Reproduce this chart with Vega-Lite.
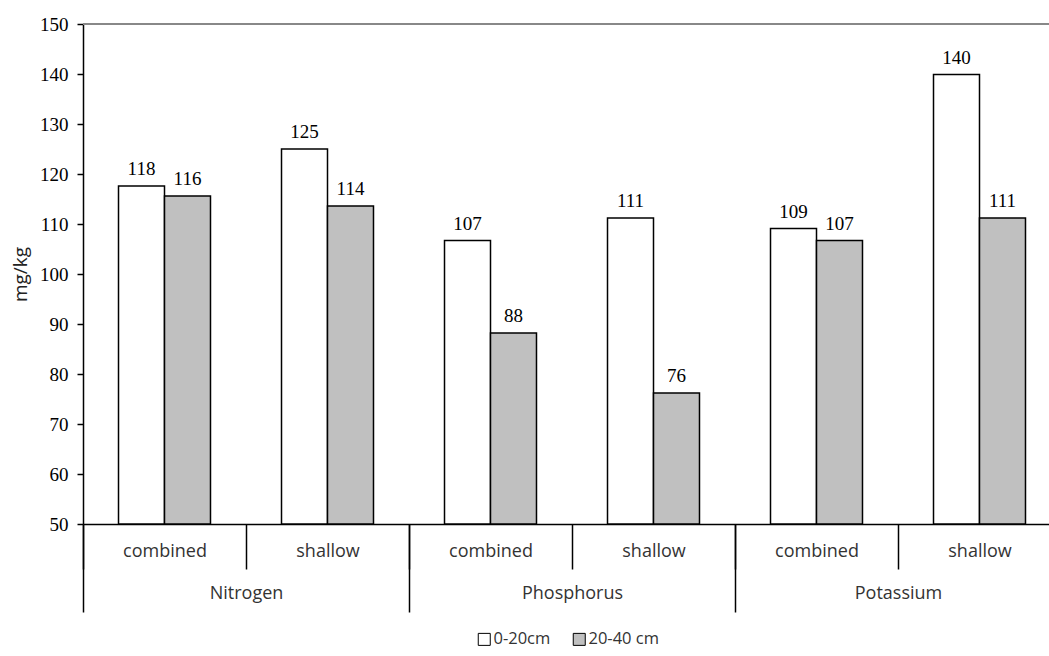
{
  "$schema": "https://vega.github.io/schema/vega-lite/v6.json",
  "autosize": "none",
  "padding": {"left": 83, "top": 24, "right": 0, "bottom": 132},
  "width": 978,
  "height": 500,
  "background": "white",
  "config": {
    "view": {"stroke": null},
    "style": {"guide-label": {"font": "Liberation Serif"}},
    "axisY": {"labelFont": "Liberation Serif"}
  },
  "data": {
    "values": [
      {"nutrient": "Nitrogen", "method": "combined", "cat": "Nitrogen|combined", "depth": "0-20cm", "value": 117.6},
      {"nutrient": "Nitrogen", "method": "combined", "cat": "Nitrogen|combined", "depth": "20-40 cm", "value": 115.6},
      {"nutrient": "Nitrogen", "method": "shallow", "cat": "Nitrogen|shallow", "depth": "0-20cm", "value": 125.0},
      {"nutrient": "Nitrogen", "method": "shallow", "cat": "Nitrogen|shallow", "depth": "20-40 cm", "value": 113.6},
      {"nutrient": "Phosphorus", "method": "combined", "cat": "Phosphorus|combined", "depth": "0-20cm", "value": 106.7},
      {"nutrient": "Phosphorus", "method": "combined", "cat": "Phosphorus|combined", "depth": "20-40 cm", "value": 88.2},
      {"nutrient": "Phosphorus", "method": "shallow", "cat": "Phosphorus|shallow", "depth": "0-20cm", "value": 111.2},
      {"nutrient": "Phosphorus", "method": "shallow", "cat": "Phosphorus|shallow", "depth": "20-40 cm", "value": 76.2},
      {"nutrient": "Potassium", "method": "combined", "cat": "Potassium|combined", "depth": "0-20cm", "value": 109.1},
      {"nutrient": "Potassium", "method": "combined", "cat": "Potassium|combined", "depth": "20-40 cm", "value": 106.7},
      {"nutrient": "Potassium", "method": "shallow", "cat": "Potassium|shallow", "depth": "0-20cm", "value": 139.9},
      {"nutrient": "Potassium", "method": "shallow", "cat": "Potassium|shallow", "depth": "20-40 cm", "value": 111.2}
    ]
  },
  "layer": [
    {
      "encoding": {
        "x": {
          "field": "cat", "type": "nominal", "sort": null,
          "scale": {"paddingInner": 0, "paddingOuter": 0},
          "axis": {
            "orient": "bottom",
            "title": null,
            "labelAngle": 0,
            "labelExpr": "split(datum.value, '|')[1]",
            "labelFont": "Open Sans",
            "labelFontSize": 18,
            "labelColor": "#333333",
            "labelPadding": -27,
            "labelBaseline": "top",
            "tickBand": "extent",
            "tickSize": 45,
            "tickColor": "black",
            "tickWidth": 1.5,
            "domainColor": "black",
            "domainWidth": 1.5,
            "grid": false
          }
        },
        "xOffset": {"field": "depth", "type": "nominal", "sort": ["0-20cm", "20-40 cm"], "scale": {"paddingInner": 0, "paddingOuter": 0.772}},
        "y": {
          "field": "value", "type": "quantitative",
          "scale": {"domain": [50, 150], "zero": false, "nice": false},
          "axis": {
            "title": "mg/kg",
            "titleFont": "Open Sans",
            "titleFontSize": 19,
            "titleFontWeight": "normal",
            "titleColor": "#222222",
            "titlePadding": 9,
            "values": [50, 60, 70, 80, 90, 100, 110, 120, 130, 140, 150],
            "labelFont": "Liberation Serif",
            "labelFontSize": 19,
            "labelFontWeight": "normal",
            "labelColor": "black",
            "labelPadding": 9,
            "tickSize": 6,
            "tickColor": "black",
            "tickWidth": 1.5,
            "domainColor": "black",
            "domainWidth": 1.5,
            "grid": false
          }
        }
      },
      "layer": [
        {
          "mark": {"type": "bar", "stroke": "black", "strokeWidth": 1.5},
          "encoding": {
            "y2": {"datum": 50},
            "color": {
              "field": "depth", "type": "nominal",
              "scale": {"domain": ["0-20cm", "20-40 cm"], "range": ["white", "#c0c0c0"]},
              "legend": {
                "orient": "none",
                "legendX": 393,
                "legendY": 607,
                "direction": "horizontal",
                "title": null,
                "symbolType": "square",
                "symbolSize": 144,
                "symbolStrokeColor": "black",
                "symbolStrokeWidth": 1,
                "symbolOpacity": 1,
                "labelFont": "Open Sans",
                "labelFontSize": 16.5,
                "labelColor": "#333333",
                "labelOffset": 1,
                "columnPadding": 20
              }
            }
          }
        },
        {
          "mark": {"type": "text", "font": "Liberation Serif", "fontSize": 19, "baseline": "bottom", "dy": -7, "color": "black"},
          "encoding": {
            "text": {"field": "value", "type": "quantitative", "format": ".0f"}
          }
        },
        {
          "mark": {"type": "rule", "color": "#888888", "strokeWidth": 1.5},
          "encoding": {"y": {"datum": 150}, "x": null, "xOffset": null}
        }
      ]
    },
    {
      "mark": {"type": "point", "opacity": 0},
      "encoding": {
        "x": {
          "field": "nutrient", "type": "nominal", "sort": null,
          "scale": {"paddingInner": 0, "paddingOuter": 0},
          "axis": {
            "orient": "bottom",
            "title": null,
            "labelAngle": 0,
            "labelFont": "Open Sans",
            "labelFontSize": 18,
            "labelColor": "#333333",
            "labelPadding": -28,
            "labelBaseline": "top",
            "tickBand": "extent",
            "tickSize": 88,
            "tickColor": "black",
            "tickWidth": 1.5,
            "domain": false,
            "grid": false
          }
        }
      }
    }
  ],
  "resolve": {"scale": {"x": "independent"}, "axis": {"x": "independent"}}
}
